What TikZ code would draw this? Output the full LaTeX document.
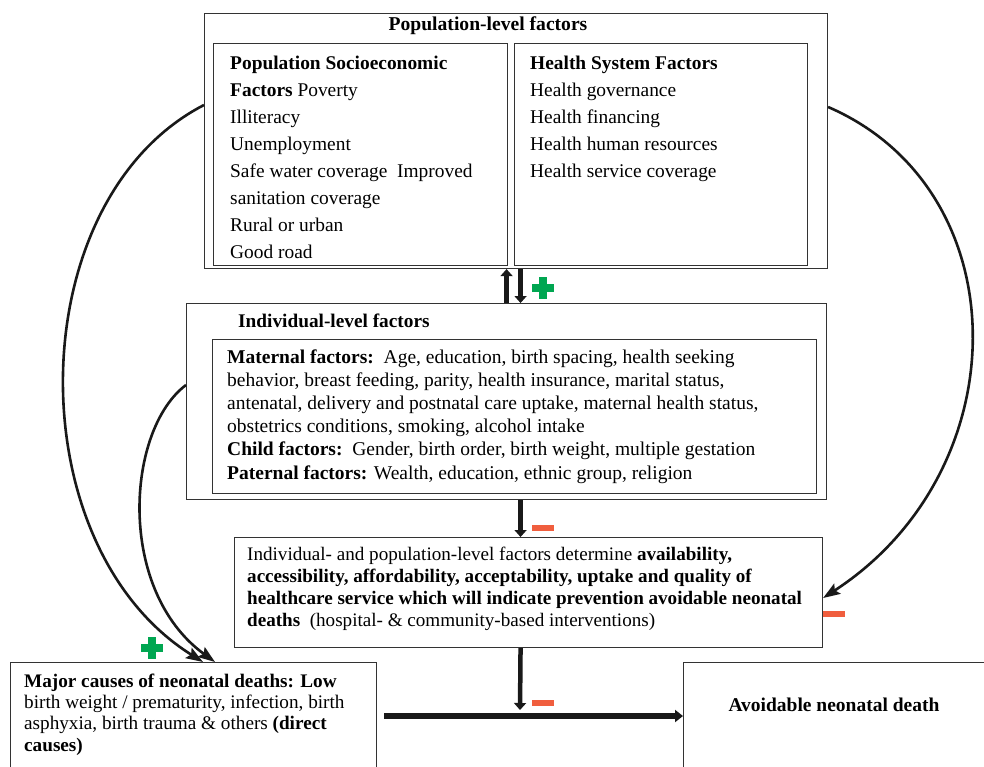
\documentclass[tikz,border=0pt]{standalone}
\usepackage{fontspec}
\setmainfont{Liberation Serif}
\usetikzlibrary{arrows.meta}
\definecolor{greenfig}{RGB}{0, 166, 81}
\definecolor{redfig}{RGB}{240, 94, 62}

\begin{document}
\begin{tikzpicture}[x=1pt, y=-1pt,
  box/.style={draw=black!80, line width=1.1pt, anchor=north west, inner sep=0pt},
  txt/.style={anchor=base west, align=left, inner sep=0pt},
  curvearrow/.style={line width=2.6pt, black!90, -{Stealth[length=17pt, width=12pt, inset=3pt]}},
  vertarrow/.style={line width=4.5pt, black!90, -{Triangle[length=7pt, width=12pt]}}
]
\path[use as bounding box, clip] (0,0) rectangle (984,767);

% boxes
\node[box, minimum width=623pt, minimum height=255pt] (pop) at (204,13) {};
\node[box, minimum width=294pt, minimum height=222pt] (psoc) at (213,43) {};
\node[box, minimum width=293pt, minimum height=222pt] (hsys) at (514,43) {};
\node[box, minimum width=640pt, minimum height=196pt] (ind) at (186,303) {};
\node[box, minimum width=604pt, minimum height=154pt] (mat) at (212,339) {};
\node[box, minimum width=588pt, minimum height=110pt] (mid) at (234,537) {};
\node[box, minimum width=366pt, minimum height=130pt] (cause) at (10,662) {};
\node[box, minimum width=330pt, minimum height=130pt] (avoid) at (683,662) {};

% texts (anchored at the baseline of the last line)
\node[anchor=base, inner sep=0pt, font=\fontsize{19.6}{24}\selectfont\bfseries] (poptitle) at (488,31) {Population-level factors};
\node[txt, font=\fontsize{19.4}{26.9}\selectfont] (psoctext) at (230,258.3) {%
  \textbf{Population Socioeconomic}\\
  \textbf{Factors} Poverty\\
  Illiteracy\\
  Unemployment\\
  Safe water coverage\ \ Improved\\
  sanitation coverage\\
  Rural or urban\\
  Good road};
\node[txt, font=\fontsize{19.4}{26.9}\selectfont] (hsystext) at (530,177.6) {%
  \textbf{Health System Factors}\\
  Health governance\\
  Health financing\\
  Health human resources\\
  Health service coverage};
\node[txt, font=\fontsize{19.3}{23}\selectfont\bfseries] (indtitle) at (238,327) {Individual-level factors};
\node[txt, font=\fontsize{19.5}{23.2}\selectfont] (mattext) at (227,479) {%
  \textbf{Maternal factors:}\ \ Age, education, birth spacing, health seeking\\
  behavior, breast feeding, parity, health insurance, marital status,\\
  antenatal, delivery and postnatal care uptake, maternal health status,\\
  obstetrics conditions, smoking, alcohol intake\\
  \textbf{Child factors:}\ \ Gender, birth order, birth weight, multiple gestation\\
  \textbf{Paternal factors:} Wealth, education, ethnic group, religion};
\node[txt, font=\fontsize{19.1}{21.7}\selectfont] (midtext) at (247,626) {%
  Individual- and population-level factors determine \textbf{availability,}\\
  \textbf{accessibility, affordability, acceptability, uptake and quality of}\\
  \textbf{healthcare service which will indicate prevention avoidable neonatal}\\
  \textbf{deaths}\ \ (hospital- \& community-based interventions)};
\node[txt, font=\fontsize{19.2}{21.3}\selectfont] (causetext) at (24,751) {%
  \textbf{Major causes of neonatal deaths: Low}\\
  birth weight / prematurity, infection, birth\\
  asphyxia, birth trauma \& others \textbf{(direct}\\
  \textbf{causes)}};
\node[anchor=base, inner sep=0pt, font=\fontsize{19.5}{22}\selectfont\bfseries] (avoidtext) at (834,711) {Avoidable neonatal death};

% connectors
\coordinate (hit) at (520,710);
\draw[vertarrow] (ind.north) -- (ind.north |- pop.south);
\draw[vertarrow] ([xshift=14pt]ind.north |- pop.south) -- ([xshift=14pt]ind.north);
\draw[vertarrow] ([xshift=14pt]ind.south) -- ([xshift=14pt]ind.south |- mid.north);
\draw[vertarrow] ([xshift=-8pt]mid.south) -- (hit);
\draw[line width=5.5pt, black!90, -{Triangle[length=8pt, width=12pt]}]
  ([xshift=7pt, yshift=-54pt]cause.north east) -- ([yshift=-54pt]avoid.north west);

\draw[curvearrow] ([yshift=-92pt]pop.north west) .. controls (20,200) and (16,545) .. ([xshift=193pt]cause.north west);
\draw[curvearrow] ([yshift=-82pt]ind.north west) .. controls (126,430) and (116,590) .. ([xshift=205pt]cause.north west);
\draw[curvearrow] ([yshift=-94pt]pop.north east) .. controls (1020,190) and (1020,470) .. ([yshift=-61pt]mid.north east);

% signs
\foreach \px/\py in {543/288, 152/648} {
  \fill[greenfig] (\px-11,\py-4) rectangle (\px+11,\py+4);
  \fill[greenfig] (\px-4,\py-11) rectangle (\px+4,\py+11);
}
\foreach \mx/\my in {543/528, 543/703, 834/614}
  \fill[redfig] (\mx-11,\my-3) rectangle (\mx+11,\my+3);
\end{tikzpicture}
\end{document}
